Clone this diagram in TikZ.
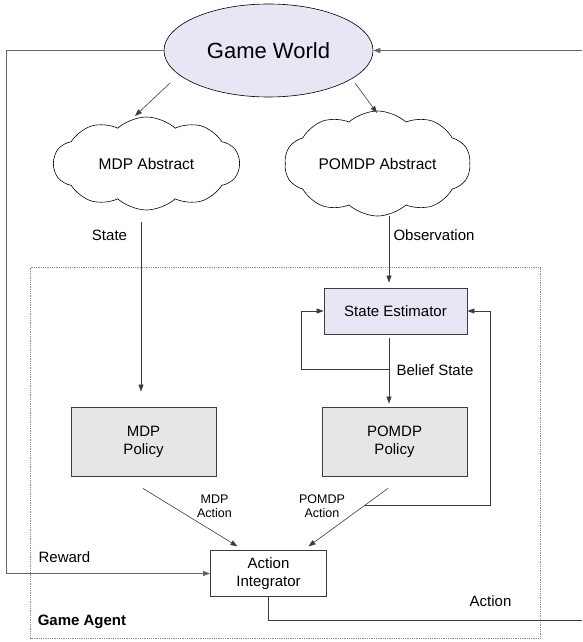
\documentclass[tikz,border=0pt]{standalone}
\usepackage{fontspec}
\setmainfont{Liberation Sans}
\usetikzlibrary{shapes.geometric,shapes.symbols,arrows.meta}
\definecolor{worldfill}{RGB}{230,230,245}
\definecolor{policyfill}{RGB}{230,230,230}
\definecolor{linegray}{RGB}{60,60,60}
\begin{document}
\begin{tikzpicture}[x=1pt,y=-1pt,>={Triangle[length=7pt,width=5pt]},
    line/.style={draw=linegray,line width=0.6pt},
    loop/.style={draw=black!60,line width=1pt},
    box/.style={draw=linegray,line width=0.8pt,rectangle,align=center,font=\fontsize{15}{18}\selectfont},
    policy/.style={box,fill=policyfill,minimum width=145pt,minimum height=69pt},
    abstract/.style={cloud,draw,line width=0.6pt,cloud puffs=10,cloud puff arc=85,aspect=2,
        minimum width=186pt,minimum height=93pt,font=\fontsize{15.5}{18}\selectfont},
    lbl/.style={font=\fontsize{15}{18}\selectfont,inner sep=0pt},
    small/.style={font=\fontsize{12.5}{14}\selectfont,align=center,inner sep=0pt}]
    \useasboundingbox (0,0) rectangle (582,642);
    % agent frame
    \draw[black!45,densely dotted,line width=0.8pt] (30.5,267.5) rectangle (540,638.5);
    \node[lbl,font=\fontsize{15}{18}\selectfont\bfseries] (agent) at (82,621.5) {Game Agent};

    \node[ellipse,draw,line width=0.6pt,fill=worldfill,minimum width=209pt,minimum height=93pt,
        font=\fontsize{22}{26}\selectfont] (world) at (268.5,50.5) {Game World};
    \node[abstract] (mdpc) at (146.5,163.5) {MDP Abstract};
    \node[abstract] (pomdpc) at (377.5,163.5) {POMDP Abstract};
    \node[box,fill=worldfill,minimum width=143pt,minimum height=46pt] (se) at (395.5,311) {State Estimator};
    \node[policy] (mdp) at (143.5,441.5) {MDP\\Policy};
    \node[policy] (pomdp) at (394.5,441.5) {POMDP\\Policy};
    \node[box,fill=white,minimum width=116pt,minimum height=46.5pt,
        font=\fontsize{15}{17.5}\selectfont] (ai) at (268.5,573.5) {Action\\Integrator};

    % labels
    \node[lbl] (lstate) at (109.5,235) {State};
    \node[lbl] (lobs) at (434,235) {Observation};
    \node[lbl] (lbelief) at (435,370) {Belief State};
    \node[small] (lmdpa) at (214.5,506.5) {MDP\\Action};
    \node[small] (lpomdpa) at (322,506.5) {POMDP\\Action};
    \node[lbl] (lreward) at (64.5,557) {Reward};
    \node[lbl] (laction) at (490.5,601.5) {Action};

    % world -> abstractions
    \coordinate (wl) at (170,83);
    \coordinate (ml) at (135,116);
    \coordinate (wr) at (355,83);
    \coordinate (pr) at (377,113);
    \draw[line,->] (wl) -- (ml);
    \draw[line,->] (wr) -- (pr);

    % abstractions -> agent
    \coordinate (ms) at (141,222);
    \coordinate (os) at (389,216);
    \draw[line,->,shorten >=15pt] (ms) -- (ms |- mdp.north);
    \draw[line,->,shorten >=5pt] (os) -- (os |- se.north);
    \draw[line,->,shorten <=4pt,shorten >=3pt] (se.south -| os) -- (pomdp.north -| os);

    % belief feedback
    \coordinate (bs) at (389,369);
    \draw[line,->] (bs) -- ++(-88,0) |- (se.west);

    % actions
    \draw[line,->] ([xshift=-0.5pt,yshift=-12pt]mdp.south) -- ([xshift=-31pt,yshift=3.5pt]ai.north);
    \draw[line,->] ([xshift=-6.5pt,yshift=-12pt]pomdp.south) -- ([xshift=40pt,yshift=3.5pt]ai.north);
    \coordinate (pa) at (365,505);
    \draw[line,->] (pa) -- ++(125,0) |- (se.east);

    % reward and action to the world
    \coordinate (rin) at (582,50.5);
    \coordinate (rout) at (582,620);
    \draw[loop,->] (world.west) -- ++(-157.5,0) |- (ai.west);
    \draw[loop,->] (rin) -- (world.east);
    \draw[line] (ai.south) |- (rout);
\end{tikzpicture}
\end{document}
